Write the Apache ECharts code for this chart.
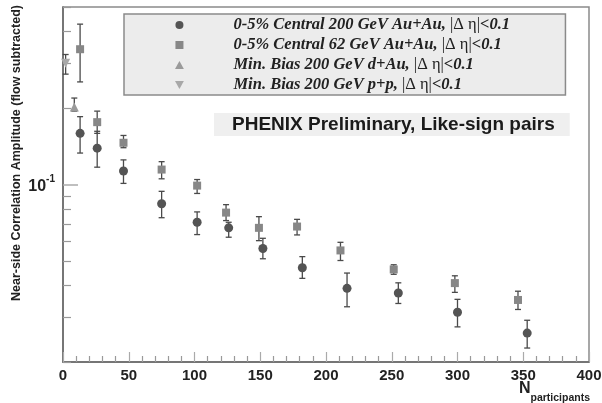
<!DOCTYPE html>
<html>
<head>
<meta charset="utf-8">
<script src="https://cdn.jsdelivr.net/npm/echarts@6/dist/echarts.min.js"></script>
<style>html,body{margin:0;padding:0;background:#fff}#c{width:602px;height:403px}</style>
</head>
<body>
<div id="c"></div>
<script>
// ---- data ----
const seriesNames = [
  '0-5% Central 200 GeV Au+Au',
  '0-5% Central 62 GeV Au+Au',
  'Min. Bias 200 GeV d+Au',
  'Min. Bias 200 GeV p+p'
];
const auau200Npart = [13, 26, 46, 75, 102, 126, 152, 182, 216, 255, 300, 353];
const auau200Val   = [0.159, 0.139, 0.113, 0.084, 0.071, 0.0675, 0.056, 0.047, 0.039, 0.0374, 0.0314, 0.026];
const auau200Lo    = [0.133, 0.117, 0.101, 0.074, 0.0635, 0.062, 0.051, 0.0427, 0.033, 0.034, 0.0275, 0.0227];
const auau200Hi    = [0.185, 0.162, 0.125, 0.094, 0.078, 0.071, 0.0614, 0.052, 0.0448, 0.041, 0.0353, 0.0292];

const auau62Npart = [13, 26, 46, 75, 102, 124, 149, 178, 211, 251.5, 298, 346];
const auau62Val   = [0.341, 0.176, 0.146, 0.1145, 0.099, 0.0775, 0.0675, 0.0683, 0.055, 0.0463, 0.0409, 0.0351];
const auau62Lo    = [0.2535, 0.159, 0.1396, 0.1053, 0.0922, 0.0721, 0.0601, 0.0633, 0.0502, 0.0443, 0.0376, 0.0322];
const auau62Hi    = [0.428, 0.1945, 0.156, 0.123, 0.1046, 0.0833, 0.0747, 0.0729, 0.0592, 0.0483, 0.0437, 0.038];

const dauNpart = [8.6];
const dauVal   = [0.202];
const dauLo    = [0.1945];
const dauHi    = [0.219];

const ppNpart = [2];
const ppVal   = [0.300];
const ppLo    = [0.272];
const ppHi    = [0.325];

const xTicks = [0, 50, 100, 150, 200, 250, 300, 350, 400];
const yMinorTicks = [0.02, 0.03, 0.04, 0.05, 0.06, 0.07, 0.08, 0.09, 0.2, 0.3, 0.4, 0.5];
const yMajorTicks = [0.1];

// ---- build ----
const pts = (xs, ys) => xs.map((x, i) => [x, ys[i]]);
const errs = (xs, lo, hi) => xs.map((x, i) => [x, lo[i], hi[i]]);

const triDown = 'path://M0,0L10,0L5,9Z';
const colors = ['#545454', '#878787', '#9a9a9a', '#a8a8a8'];

function errRender(params, api) {
  const x = api.value(0);
  const p1 = api.coord([x, api.value(1)]);
  const p2 = api.coord([x, api.value(2)]);
  const c = 3;
  const st = { stroke: '#4a4a4a', lineWidth: 1.3 };
  return {
    type: 'group',
    children: [
      { type: 'line', shape: { x1: p1[0], y1: p1[1], x2: p2[0], y2: p2[1] }, style: st },
      { type: 'line', shape: { x1: p1[0] - c, y1: p1[1], x2: p1[0] + c, y2: p1[1] }, style: st },
      { type: 'line', shape: { x1: p2[0] - c, y1: p2[1], x2: p2[0] + c, y2: p2[1] }, style: st }
    ]
  };
}
function errSeries(data) {
  return { type: 'custom', renderItem: errRender, data: data, z: 1, silent: true,
           encode: { x: 0, y: [1, 2] } };
}

const legendFmt = name => '{i|' + name + ', }{u||Δ η|}{i|<0.1}';

const option = {
  animation: false,
  grid: { left: 63, right: 13, top: 7, bottom: 41, show: true, borderColor: '#8a8a8a', borderWidth: 1.5,
          backgroundColor: 'transparent', containLabel: false, outerBoundsMode: 'none' },
  title: {
    text: 'PHENIX Preliminary, Like-sign pairs',
    left: 214, top: 113,
    padding: [2, 15, 2, 18],
    backgroundColor: '#efefef',
    textStyle: { fontFamily: 'Liberation Sans', fontWeight: 'bold', fontSize: 19, color: '#1a1a1a', lineHeight: 19 }
  },
  legend: {
    orient: 'vertical',
    left: 124, top: 14,
    padding: [1, 10, 0, 51],
    itemGap: 0,
    itemWidth: 98, itemHeight: 8,
    backgroundColor: '#ececec',
    borderColor: '#8a8a8a', borderWidth: 1.5,
    formatter: legendFmt,
    data: [
      { name: seriesNames[0], icon: 'circle' },
      { name: seriesNames[1], icon: 'path://M0,0H10V10H0Z' },
      { name: seriesNames[2], icon: 'path://M5,0L10,9L0,9Z' },
      { name: seriesNames[3], icon: triDown }
    ],
    textStyle: {
      width: 322, lineHeight: 20,
      rich: {
        i: { fontFamily: 'Liberation Serif', fontStyle: 'italic', fontWeight: 'bold', fontSize: 16.5, color: '#222', lineHeight: 20 },
        u: { fontFamily: 'Liberation Serif', fontSize: 16.5, color: '#222', lineHeight: 20 }
      }
    }
  },
  xAxis: {
    type: 'value', min: 0, max: 400, interval: 50,
    axisLine: { show: true, lineStyle: { color: '#666', width: 1.5 } },
    axisTick: { show: true, inside: true, length: 10, lineStyle: { color: '#aaa', width: 1.2 } },
    minorTick: { show: true, splitNumber: 5, length: 6, lineStyle: { color: '#999', width: 1.2 } },
    axisLabel: { fontFamily: 'Liberation Sans', fontWeight: 'bold', fontSize: 15, color: '#222', margin: 6 },
    splitLine: { show: false }
  },
  yAxis: [
    {
      type: 'log', logBase: 10, min: 0.02, max: 0.5, position: 'left',
      axisLine: { show: true, lineStyle: { color: '#666', width: 1.5 } },
      axisTick: { show: true, inside: true, length: 8, customValues: yMinorTicks, lineStyle: { color: '#999', width: 1.2 } },
      axisLabel: { show: false },
      splitLine: { show: false }
    },
    {
      type: 'log', logBase: 10, min: 0.02, max: 0.5, position: 'left',
      axisLine: { show: false },
      axisTick: { show: true, inside: true, length: 15, customValues: yMajorTicks, lineStyle: { color: '#aaa', width: 1.5 } },
      axisLabel: {
        customValues: yMajorTicks, margin: 8,
        formatter: v => '{b|10}{s|-1}',
        rich: {
          b: { fontFamily: 'Liberation Sans', fontWeight: 'bold', fontSize: 16, color: '#222', lineHeight: 20, verticalAlign: 'bottom' },
          s: { fontFamily: 'Liberation Sans', fontWeight: 'bold', fontSize: 10, color: '#222', lineHeight: 20, verticalAlign: 'top' }
        }
      },
      splitLine: { show: false }
    }
  ],
  graphic: [
    {
      type: 'text', x: 16.5, y: 153, rotation: Math.PI / 2,
      style: { text: 'Near-side Correlation Amplitude (flow subtracted)', fontFamily: 'Liberation Sans', fontWeight: 'bold',
               fontSize: 12.5, fill: '#222', align: 'center', verticalAlign: 'middle' }
    },
    {
      type: 'text', x: 590, y: 381,
      style: {
        text: '{n|N}{s|participants}', align: 'right', verticalAlign: 'top',
        rich: {
          n: { fontFamily: 'Liberation Sans', fontWeight: 'bold', fontSize: 16, fill: '#222', verticalAlign: 'top', lineHeight: 23 },
          s: { fontFamily: 'Liberation Sans', fontWeight: 'bold', fontSize: 10.5, fill: '#222', verticalAlign: 'bottom', lineHeight: 23 }
        }
      }
    }
  ],
  series: [
    errSeries(errs(auau200Npart, auau200Lo, auau200Hi)),
    errSeries(errs(auau62Npart, auau62Lo, auau62Hi)),
    errSeries(errs(dauNpart, dauLo, dauHi)),
    errSeries(errs(ppNpart, ppLo, ppHi)),
    { name: seriesNames[0], type: 'scatter', data: pts(auau200Npart, auau200Val), symbol: 'circle', symbolSize: 9, itemStyle: { color: colors[0], opacity: 1 }, z: 3 },
    { name: seriesNames[1], type: 'scatter', data: pts(auau62Npart, auau62Val), symbol: 'rect', symbolSize: 8, itemStyle: { color: colors[1], opacity: 1 }, z: 3 },
    { name: seriesNames[2], type: 'scatter', data: pts(dauNpart, dauVal), symbol: 'triangle', symbolSize: 9, itemStyle: { color: colors[2], opacity: 1 }, z: 3 },
    { name: seriesNames[3], type: 'scatter', data: pts(ppNpart, ppVal), symbol: triDown, symbolSize: 9, itemStyle: { color: colors[3], opacity: 1 }, z: 3 }
  ]
};
const chart = echarts.init(document.getElementById('c'), null, { renderer: 'canvas' });
chart.setOption(option);
</script>
</body>
</html>
